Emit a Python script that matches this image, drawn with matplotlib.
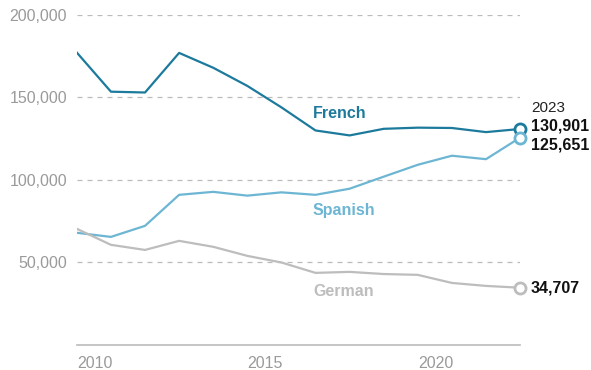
import matplotlib
matplotlib.use("Agg")
import matplotlib.pyplot as plt
from matplotlib.ticker import FuncFormatter

plt.rcParams['font.family'] = ['Liberation Sans', 'DejaVu Sans']

years = list(range(2010, 2024))
french = [177200, 153500, 153000, 177000, 168000, 157000, 144000, 130000,
          127000, 131000, 131700, 131500, 129000, 130901]
spanish = [68000, 65500, 72200, 91000, 92800, 90500, 92500, 91000,
           94700, 102000, 109200, 114700, 112600, 125651]
german = [70400, 60700, 57600, 63100, 59500, 54000, 50000, 43700,
          44300, 43000, 42500, 37600, 35800, 34707]

names = ["French", "Spanish", "German"]
colors = ["#1c7a9c", "#6db6d3", "#bdbdbd"]
label_y = [114, 210, 291]  # pixel rows of the inline labels

fig = plt.figure(figsize=(5.91, 3.70), dpi=100)
ax = fig.add_axes([0.130, 0.0676, 0.750, 0.892])

for vals, c in zip([french, spanish, german], colors):
    ax.plot(years, vals, color=c, lw=1.6, solid_joinstyle='round', zorder=3)
    ax.plot(years[-1], vals[-1], 'o', ms=8, mfc='white', mec=c, mew=2,
            clip_on=False, zorder=4)

ax.set_xlim(2010, 2023)
ax.set_ylim(0, 200000)
ax.set_yticks([50000, 100000, 150000, 200000])
ax.yaxis.set_major_formatter(FuncFormatter(lambda v, p: f"{int(v):,}"))
ax.set_xticks([2010, 2015, 2020])
for t in ax.get_xticklabels():
    t.set_ha('left')
ax.tick_params(length=0, labelsize=11.5, labelcolor='#9a9a9a')
ax.tick_params(axis='y', pad=7)
ax.tick_params(axis='x', pad=8)
ax.grid(axis='y', color='#bbbbbb', ls=(0, (4, 4)), lw=0.9)
for s in ['top', 'right', 'left']:
    ax.spines[s].set_visible(False)
ax.spines['bottom'].set_color('#bbbbbb')
ax.spines['bottom'].set_linewidth(1.2)

# inline series labels
for n, c, py in zip(names, colors, label_y):
    fig.text(313 / 591, 1 - py / 370, n, color=c, fontsize=11.5,
             fontweight='bold', va='center', ha='left')

# end labels
fig.text(531 / 591, 1 - 108 / 370, "2023", fontsize=11, color='#222222',
         va='center', ha='left')
for v, py in zip([french[-1], spanish[-1], german[-1]], [126, 145, 288]):
    fig.text(531 / 591, 1 - py / 370, f"{v:,}", fontsize=11.5,
             fontweight='bold', color='#111111', va='center', ha='left')

fig.savefig("out.png", dpi=100, facecolor='white')
